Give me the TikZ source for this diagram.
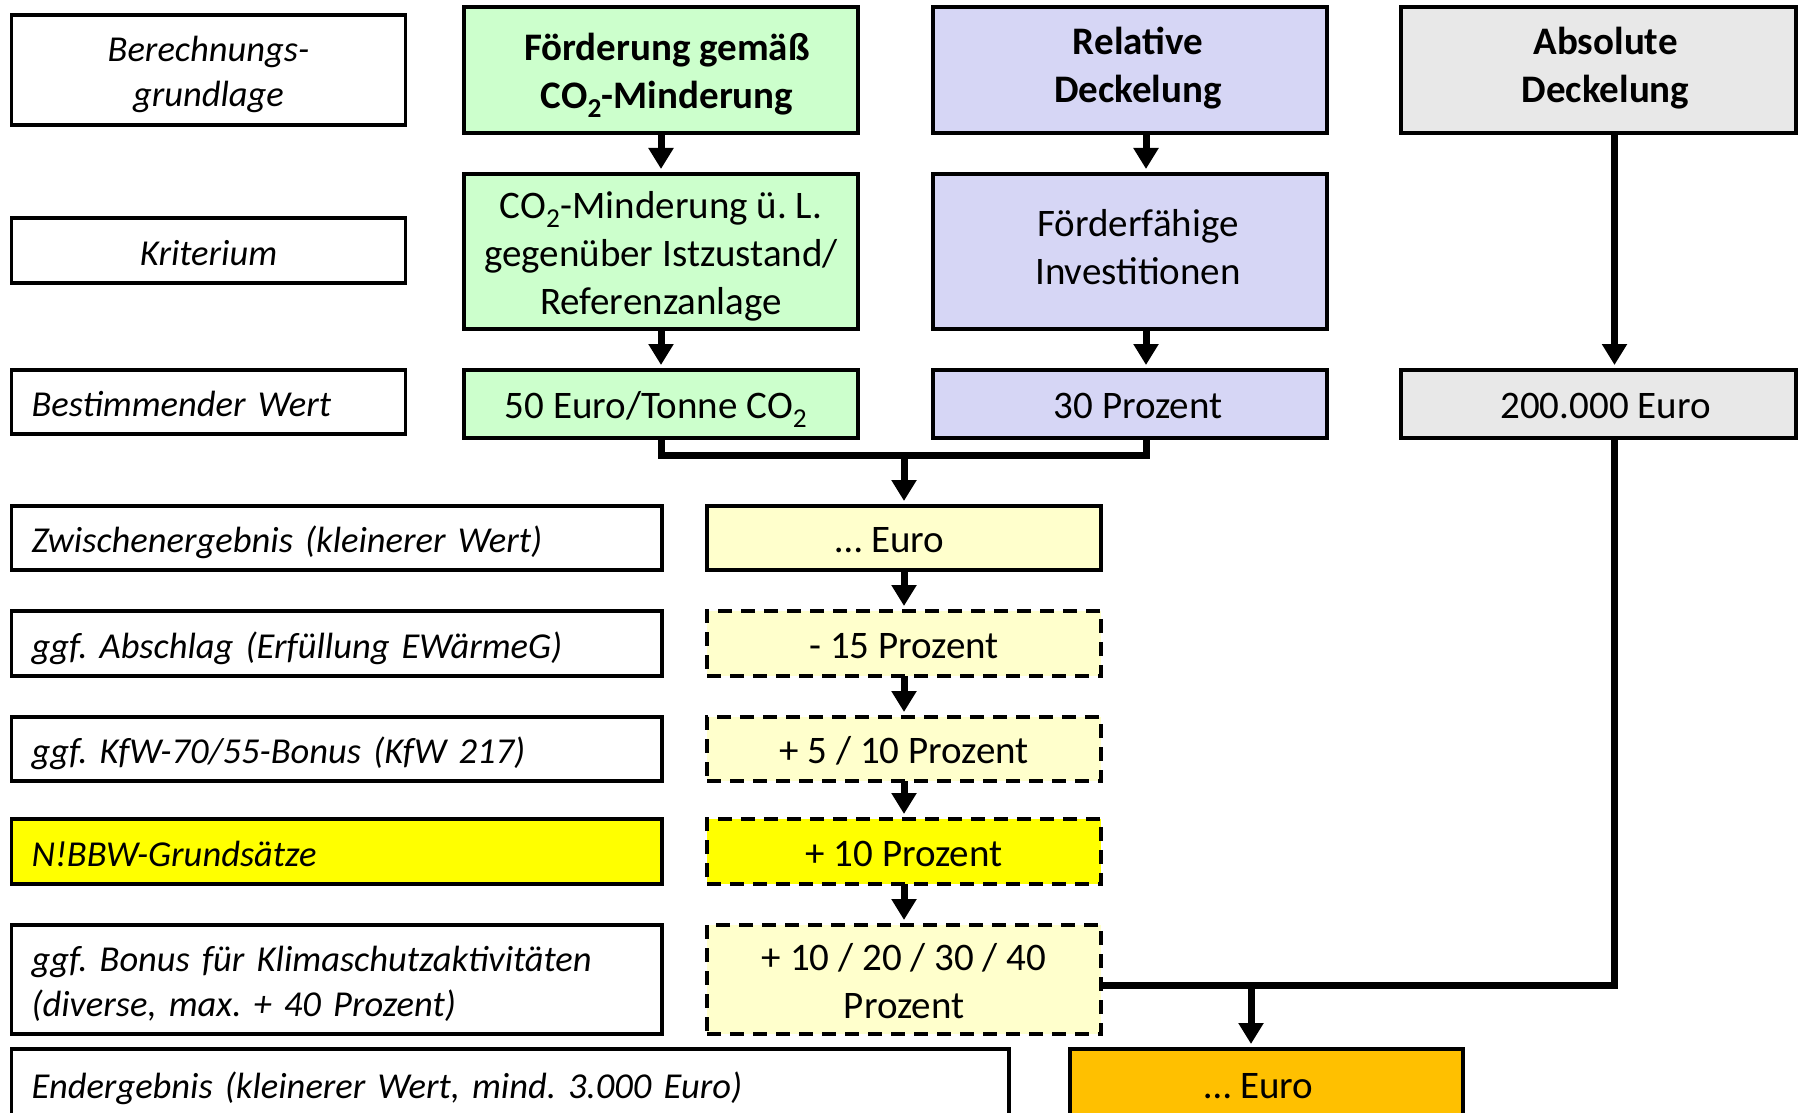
\documentclass[tikz,border=0pt]{standalone}
\usepackage{fontspec}
\setmainfont{Carlito}
\usetikzlibrary{arrows.meta}
\frenchspacing
\definecolor{cgreen}{HTML}{CCFFCC}
\definecolor{cblue}{HTML}{D6D6F5}
\definecolor{cgrey}{HTML}{E8E8E8}
\definecolor{clyel}{HTML}{FFFFCC}
\definecolor{cyel}{HTML}{FFFF00}
\definecolor{corange}{HTML}{FFC000}
\newcommand\fr{\fontsize{39}{48}\selectfont\frenchspacing}
\newcommand\fl{\fontsize{36.5}{45}\selectfont\frenchspacing}
\newcommand\cotwo{CO\textsubscript{2}}
\newcommand\sT{\rule{0pt}{38pt}}
\newcommand\sB{\rule[-9pt]{0pt}{9pt}}
\newcommand\sBB{\rule[-21pt]{0pt}{21pt}}
\newcommand\one[1]{\sT#1\sB}
\tikzset{
  bx/.style={draw=black, line width=3.5pt, inner xsep=4pt, inner ysep=0pt, outer sep=0pt, align=center, font=\fr},
  lb/.style={bx, font=\fl\itshape},
  lbl/.style={lb, align=left, inner xsep=20pt},
  dsh/.style={dash pattern=on 14pt off 9pt},
  ln/.style={line width=7pt, line join=miter},
  ar/.style={ln, -{Triangle[width=24pt,length=21pt]}, shorten >=5pt},
}
\begin{document}
\begin{tikzpicture}[x=1pt,y=-1pt]
\useasboundingbox (0,0) rectangle (1802,1113);
\clip (0,0) rectangle (1802,1113);
% left column
\node[lb, minimum width=394pt, minimum height=110pt] (L1) at (208.5,70) {\sT Berechnungs-\\grundlage\sB};
\node[lb, minimum width=394pt, minimum height=65pt] (L2) at (208.5,250.5) {\one{Kriterium}};
\node[lbl, text width=354pt, minimum height=64pt] (L3) at (208.5,402) {\one{Bestimmender Wert}};
\node[lbl, text width=610.5pt, minimum height=64pt] (L4) at (336.75,538) {\one{Zwischenergebnis (kleinerer Wert)}};
\node[lbl, text width=610.5pt, minimum height=65pt] (L5) at (336.75,643.5) {\one{ggf. Abschlag (Erfüllung EWärmeG)}};
\node[lbl, text width=610.5pt, minimum height=64pt] (L6) at (336.75,749) {\one{ggf. KfW-70/55-Bonus (KfW 217)}};
\node[lbl, text width=610.5pt, minimum height=65pt, fill=cyel] (L7) at (336.75,851.5) {\one{N!BBW-Grundsätze}};
\node[lbl, text width=610.5pt, minimum height=109pt] (L8) at (336.75,979.5) {\sT ggf. Bonus für Klimaschutzaktivitäten\\(diverse, max. + 40 Prozent)\sB};
\node[lbl, text width=957.5pt, minimum height=70pt] (L9) at (510.25,1084) {\one{Endergebnis (kleinerer Wert, mind. 3.000 Euro)}};
% green column
\node[bx, fill=cgreen, minimum width=394pt, minimum height=126pt, font=\fr\bfseries] (G1) at (661,70) {\sT\hspace*{12pt}Förderung gemäß\\\hspace*{12pt}\cotwo-Minderung\sB};
\node[bx, fill=cgreen, minimum width=394pt, minimum height=155pt] (G2) at (661,251.5) {\sT\cotwo-Minderung ü. L.\\gegenüber Istzustand/\\Referenzanlage\sB};
\node[bx, fill=cgreen, minimum width=394pt, minimum height=68pt] (G3) at (661,404) {\one{\hspace*{-10pt}50 Euro/Tonne \cotwo}};
% blue column
\node[bx, fill=cblue, minimum width=394pt, minimum height=126pt, font=\fr\bfseries] (B1) at (1130,70) {\sT\hspace*{16pt}Relative\\\hspace*{16pt}Deckelung\sBB};
\node[bx, fill=cblue, minimum width=394pt, minimum height=155pt] (B2) at (1130,251.5) {\sT\hspace*{16pt}Förderfähige\\\hspace*{16pt}Investitionen\sBB};
\node[bx, fill=cblue, minimum width=394pt, minimum height=68pt] (B3) at (1130,404) {\one{\hspace*{16pt}30 Prozent}};
% grey column
\node[bx, fill=cgrey, minimum width=395pt, minimum height=126pt, font=\fr\bfseries] (A1) at (1598.5,70) {\sT\hspace*{14pt}Absolute\\\hspace*{14pt}Deckelung\sBB};
\node[bx, fill=cgrey, minimum width=395pt, minimum height=68pt] (A3) at (1598.5,404) {\one{\hspace*{14pt}200.000 Euro}};
% result stack
\node[bx, fill=clyel, minimum width=394pt, minimum height=64pt] (R1) at (904,538) {\one{\hspace*{-28pt}… Euro}};
\node[bx, dsh, fill=clyel, minimum width=394pt, minimum height=65pt] (R2) at (904,643.5) {\one{- 15 Prozent}};
\node[bx, dsh, fill=clyel, minimum width=394pt, minimum height=64pt] (R3) at (904,749) {\one{+ 5 / 10 Prozent}};
\node[bx, dsh, fill=cyel, minimum width=394pt, minimum height=65pt] (R4) at (904,851.5) {\one{+ 10 Prozent}};
\node[bx, dsh, fill=clyel, minimum width=394pt, minimum height=109pt] (R5) at (904,979.5) {\sT+ 10 / 20 / 30 / 40\\Prozent\sB};
\node[bx, fill=corange, minimum width=393pt, minimum height=70pt] (F) at (1266.5,1084) {\one{\hspace*{-15pt}… Euro}};
% connectors
\draw[ar] (G1.south) -- (G2.north);
\draw[ar] (G2.south) -- (G3.north);
\draw[ar] ([xshift=16pt]B1.south) -- ([xshift=16pt]B2.north);
\draw[ar] ([xshift=16pt]B2.south) -- ([xshift=16pt]B3.north);
\draw[ar] ([xshift=16pt]A1.south) -- ([xshift=16pt]A3.north);
\coordinate (mj) at (904,455);
\draw[ln] (G3.south) |- (mj) -| ([xshift=16pt]B3.south);
\draw[ar] (mj) -- (R1.north);
\draw[ar] (R1.south) -- (R2.north);
\draw[ar] (R2.south) -- (R3.north);
\draw[ar] (R3.south) -- (R4.north);
\draw[ar] (R4.south) -- (R5.north);
\coordinate (gj) at (1614,985);
\draw[ln] ([xshift=16pt]A3.south) |- (R5.east |- gj);
\coordinate (fj) at (1251,985);
\draw[ar] (fj) -- (fj |- F.north);
\end{tikzpicture}
\end{document}
